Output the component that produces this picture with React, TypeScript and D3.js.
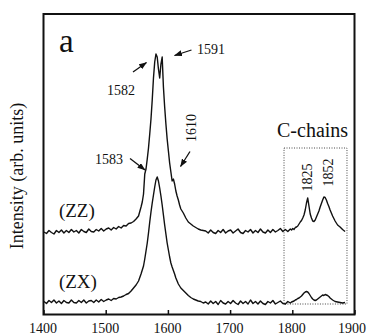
import React from "react";
import * as d3 from "d3";

const W = 367;
const H = 336;

// sample grid (cm^-1): denser around the peaks
const waveSegments: [number, number, number][] = [
  [1400, 1560, 4],
  [1558, 1620, 2],
  [1620, 1800, 4],
  [1798, 1866, 2],
  [1868, 1888, 4],
];
const wavenumbers: number[] = waveSegments.flatMap(([a, b, s]) => d3.range(a, b, s));

// (ZZ) spectrum, arbitrary units
const zzA = [83,81.5,84.5,82.5,81,84.5,82.5,85,82,84.5, 82.5,85.5,83,84.5,82,85.5,83.5,82.5,86,83.5, 83,85.5,84,86.5,84,86,87,85,87.5,86, 88.5,87,89.5,89,91.5,92,93.5,96,99,108];
const zzB = [113,121,141,146,156,167,181,196,215,237, 253,261,258,246,237,251,258,228,208,191, 176,164,152,143,134,136,131,124,119,115, 110];
const zzC = [106,102,97,93,91,89,87.5,86,85,84.5,84, 82,85,82.5,81.5,84.5,82.5,85.5,82,84,85, 82,84,86,82.5,81.5,84.5,83,85.5,82,84.5, 82.5,86,83,82,85,82.5,85.5,83,84.5,86.5, 83.5,85.5,83.5,86];
const zzD = [85,86.5,85.5,87.5,88,89,91,93,94.5,97, 100,105,112,117,109,101,97,94,93.5,95, 98,101,104,108,111.5,115,118,117.5,115,111.5, 108.5,105,102,99];
const zzE = [94,90,88,85.5,83.5];

// (ZX) spectrum, arbitrary units
const zxA = [13.5,11.5,14.5,12.5,15,12,14,11.5,14.5,12.5, 12,15,12.5,12,14.5,12.5,15,12,14,14.5, 12.5,15,13,15.5,13.5,15,16,14.5,16.5,16, 17.5,18,19,20.5,21.5,24,27,30,34,41];
const zxB = [45,49,56,64,72,82,93,103,112,120, 128,135,138,134,127,119,110,100,90,81, 72,65,58,52,48,44.5,41,37,34,31, 29];
const zxC = [27,24.5,22,19.5,17.5,16,15,14,13.5,12,13, 11,14,11.5,13.5,10.5,14.5,12,11,13.5,11.5, 14.5,12,10.5,14,11.5,13.5,11,15,11.5,13.5, 11,14,11.5,10.5,13.5,12,14.5,11,12.5,14, 11.5,11,13.5,12];
const zxD = [13,13.5,14,15,15.5,16.5,17,18,19,20.5, 22,23,23.5,23,21.5,19.5,17.5,16,15,14.5, 15,16,17,18,19,20,19.5,20.5,20,19.5, 18.5,17,16,15];
const zxE = [13.5,13,12.5,12,12.5];

const zz = [...zzA, ...zzB, ...zzC, ...zzD, ...zzE];
const zx = [...zxA, ...zxB, ...zxC, ...zxD, ...zxE];

const xTicks = [1400, 1500, 1600, 1700, 1800, 1900];
const xDomain: [number, number] = [1400, 1900];
const yDomain: [number, number] = [0, 301];

// annotations in data units
const peakTexts = [
  { text: "1582", w: 1501.3, v: 220 },
  { text: "1591", w: 1646, v: 261 },
  { text: "1583", w: 1482, v: 151 },
];
const rotatedTexts = [
  { text: "1610", w: 1643.6, v: 187 },
  { text: "1825", w: 1830.9, v: 137.5 },
  { text: "1852", w: 1864.6, v: 142.5 },
];
const arrows = [
  { w0: 1543.1, v0: 243, w1: 1564.8, v1: 252.5 },
  { w0: 1637.1, v0: 265, w1: 1609.8, v1: 259.5 },
  { w0: 1538.3, v0: 156.5, w1: 1562.4, v1: 145 },
  { w0: 1634.7, v0: 163.5, w1: 1619.5, v1: 148.5 },
];
const seriesLabels = [
  { text: "(ZZ)", w: 1424, v: 98 },
  { text: "(ZX)", w: 1424, v: 27 },
];
const boxRange = { w0: 1785.9, w1: 1887.1, v0: 11, v1: 167 };

const FONT = '"Liberation Serif", "DejaVu Serif", "Times New Roman", Times, serif';

const txt = (size: number): React.CSSProperties => ({ fontFamily: FONT, fontSize: size + "px" });

export default function App() {
  const x = d3.scaleLinear().domain(xDomain).range([44, 355]);
  const y = d3.scaleLinear().domain(yDomain).range([315, 14]);

  const line = d3
    .line<number>()
    .x((_, i) => x(wavenumbers[i]))
    .y((d) => y(d));

  const left = x(1400) - 0.5;
  const right = x(1900) - 0.5;
  const top = 14;
  const bottom = 314.5;

  return (
    <svg width={W} height={H} style={{ position: "absolute", left: 0, top: 0, background: "#fff" }}>
      <defs>
        <marker id="ah" markerUnits="userSpaceOnUse" markerWidth="8" markerHeight="6" refX="7.5" refY="3" orient="auto">
          <path d="M0,0 L8,3 L0,6 z" fill="#111" />
        </marker>
      </defs>
      <rect x={0} y={0} width={W} height={H} fill="#fff" />

      {/* dotted C-chains box */}
      <rect
        x={x(boxRange.w0)}
        y={y(boxRange.v1)}
        width={x(boxRange.w1) - x(boxRange.w0)}
        height={y(boxRange.v0) - y(boxRange.v1)}
        fill="none"
        stroke="#333"
        strokeWidth={0.9}
        strokeDasharray="1 1.5"
      />

      {/* spectra */}
      <path d={line(zz) || ""} fill="none" stroke="#111" strokeWidth={1.4} strokeLinejoin="round" />
      <path d={line(zx) || ""} fill="none" stroke="#111" strokeWidth={1.4} strokeLinejoin="round" />

      {/* frame */}
      <rect x={left} y={top} width={right - left} height={bottom - top} fill="none" stroke="#111" strokeWidth={2} />

      {/* ticks */}
      {xTicks.map((t) => (
        <line key={"t" + t} x1={x(t)} x2={x(t)} y1={bottom} y2={bottom - 4.5} stroke="#111" strokeWidth={1.5} />
      ))}
      {xTicks.map((t, i) => {
        const last = i === xTicks.length - 1;
        return (
          <text
            key={"l" + t}
            x={last ? W - 1 : x(t) - 1}
            y={333}
            textAnchor={last ? "end" : "middle"}
            style={txt(14)}
            fill="#111"
          >
            {t}
          </text>
        );
      })}

      {/* y axis title */}
      <text transform={`translate(23,176) rotate(-90)`} textAnchor="middle" style={txt(18)} fill="#111">
        Intensity (arb. units)
      </text>

      {/* panel letter */}
      <text x={x(1424.1)} y={y(263)} style={txt(33)} fill="#111">
        a
      </text>

      {/* peak annotations */}
      {peakTexts.map((p) => (
        <text key={p.text} x={x(p.w)} y={y(p.v)} style={txt(14)} fill="#111">
          {p.text}
        </text>
      ))}
      {rotatedTexts.map((p) => (
        <text
          key={p.text}
          transform={`translate(${x(p.w)},${y(p.v)}) rotate(-90)`}
          textAnchor="middle"
          style={txt(14)}
          fill="#111"
        >
          {p.text}
        </text>
      ))}
      {arrows.map((a, i) => (
        <line
          key={"a" + i}
          x1={x(a.w0)}
          y1={y(a.v0)}
          x2={x(a.w1)}
          y2={y(a.v1)}
          stroke="#111"
          strokeWidth={1.3}
          markerEnd="url(#ah)"
        />
      ))}

      <text x={x(1774.6)} y={y(178.5)} style={txt(20)} fill="#111">
        C-chains
      </text>

      {seriesLabels.map((s) => (
        <text key={s.text} x={x(s.w)} y={y(s.v)} style={txt(19)} fill="#111">
          {s.text}
        </text>
      ))}
    </svg>
  );
}
